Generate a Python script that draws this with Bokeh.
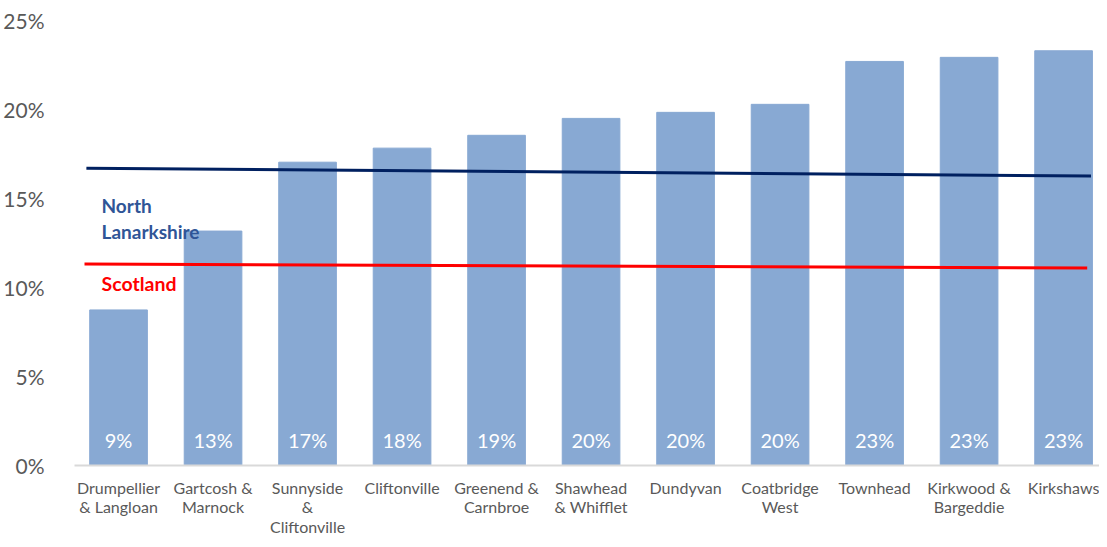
from bokeh.plotting import figure
from bokeh.models import ColumnDataSource, FixedTicker, Range1d
from bokeh.core.properties import value
from bokeh.embed import file_html
from bokeh.resources import INLINE

categories = ["Drumpellier\n& Langloan", "Gartcosh &\nMarnock", "Sunnyside\n&\nCliftonville",
              "Cliftonville", "Greenend &\nCarnbroe", "Shawhead\n& Whifflet", "Dundyvan",
              "Coatbridge\nWest", "Townhead", "Kirkwood &\nBargeddie", "Kirkshaws"]
values = [8.74, 13.17, 17.04, 17.83, 18.55, 19.5, 19.84, 20.29, 22.7, 22.93, 23.3]
value_labels = ["9%", "13%", "17%", "18%", "19%", "20%", "20%", "20%", "23%", "23%", "23%"]

nl_x = [-0.34, 10.29]
nl_y = [16.7, 16.26]
scot_x = [-0.36, 10.25]
scot_y = [11.32, 11.1]

y_ticks = [0, 5, 10, 15, 20, 25]

FONT = "Lato"
x_pos = list(range(len(categories)))

p = figure(width=1099, height=539, output_backend="svg", toolbar_location=None,
           x_range=Range1d(-0.466, 10.38), y_range=Range1d(0, 25),
           min_border_left=71, min_border_right=0, min_border_top=20, min_border_bottom=73)
p.outline_line_color = None
p.xgrid.grid_line_color = None
p.ygrid.grid_line_color = None
p.background_fill_color = "white"

src = ColumnDataSource(dict(x=x_pos, top=values, lab=value_labels, ly=[1.46] * len(values)))
p.vbar(x="x", top="top", width=0.61, bottom=0, source=src, color="#88A9D3")

p.line(nl_x, nl_y, line_color="#002060", line_width=3)
p.line(scot_x, scot_y, line_color="#FF0000", line_width=3)

p.text(x="x", y="ly", text="lab", source=src, text_color="white", text_align="center",
       text_baseline="middle", text_font=value(FONT), text_font_size="20px")

p.text(x=[-0.18, -0.18], y=[14.63, 13.12], text=["North", "Lanarkshire"],
       text_color="#2F5597", text_font=value(FONT), text_font_style="bold",
       text_font_size="19px", text_baseline="middle", text_align="left")
p.text(x=[-0.18], y=[10.2], text=["Scotland"], text_color="#FF0000",
       text_font=value(FONT), text_font_style="bold", text_font_size="19.5px",
       text_baseline="middle", text_align="left")

p.xaxis.ticker = FixedTicker(ticks=x_pos)
p.xaxis.major_label_overrides = {i: c for i, c in enumerate(categories)}
p.xaxis.axis_line_color = "#D9D9D9"
p.xaxis.axis_line_width = 2
p.xaxis.major_tick_line_color = None
p.xaxis.minor_tick_line_color = None
p.xaxis.major_label_text_font = FONT
p.xaxis.major_label_text_font_size = "16px"
p.xaxis.major_label_text_line_height = 1.05
p.xaxis.major_label_text_color = "#595959"
p.xaxis.major_label_standoff = 6

p.yaxis.ticker = FixedTicker(ticks=y_ticks)
p.yaxis.major_label_overrides = {t: f"{t}%" for t in y_ticks}
p.yaxis.axis_line_color = None
p.yaxis.major_tick_line_color = None
p.yaxis.minor_tick_line_color = None
p.yaxis.major_label_text_font = FONT
p.yaxis.major_label_text_font_size = "21px"
p.yaxis.major_label_text_color = "#595959"
p.yaxis.major_label_standoff = 24

open("out.html", "w").write(file_html(p, INLINE))
